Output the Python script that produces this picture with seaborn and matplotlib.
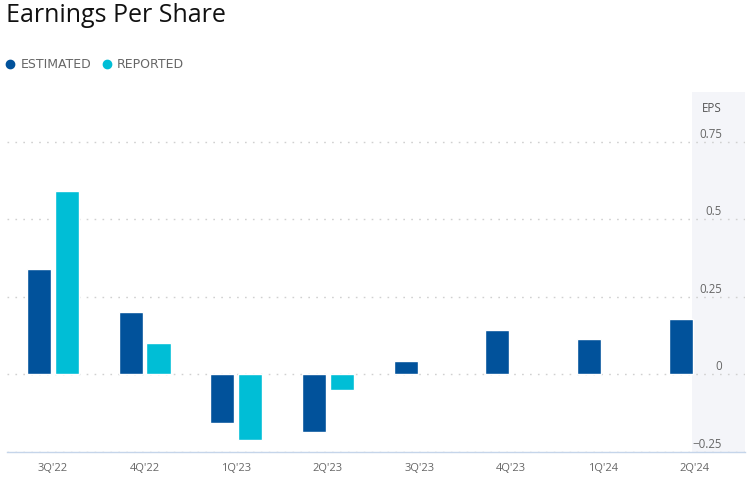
import numpy as np
import pandas as pd
import matplotlib
matplotlib.use("Agg")
import matplotlib.pyplot as plt
import seaborn as sns
from matplotlib.lines import Line2D
from matplotlib.transforms import ScaledTranslation

quarters = ["3Q'22", "4Q'22", "1Q'23", "2Q'23", "3Q'23", "4Q'23", "1Q'24", "2Q'24"]
estimated = [0.34, 0.20, -0.157, -0.187, 0.044, 0.143, 0.114, 0.18]
reported = [0.59, 0.10, -0.21, -0.05, None, None, None, None]
series_names = ["ESTIMATED", "REPORTED"]
colors = ["#01529B", "#00BED6"]
y_ticks = [-0.25, 0, 0.25, 0.5, 0.75]
y_tick_labels = ["\u22120.25", "0", "0.25", "0.5", "0.75"]

rows = []
for q, e, r in zip(quarters, estimated, reported):
    rows.append({"quarter": q, "series": series_names[0], "eps": e})
    if r is not None:
        rows.append({"quarter": q, "series": series_names[1], "eps": r})
df = pd.DataFrame(rows)

sns.set_theme(style="white")
W, H = 754, 478
fig = plt.figure(figsize=(W / 100, H / 100), dpi=100)
ax = fig.add_axes([7 / W, 1 - 452 / H, (745 - 7) / W, (452 - 92) / H])

ax.axvspan(6.97, 7.6, color="#f4f5f9", lw=0, zorder=0)

sns.barplot(data=df, x="quarter", y="eps", hue="series", order=quarters,
            hue_order=series_names, palette=colors, saturation=1,
            width=0.61, gap=0.14, ax=ax, legend=False, zorder=3)

ax.set_xlim(-0.5, 7.55)
ax.set_ylim(-0.245, 0.91)
ax.set_xlabel("")
ax.set_ylabel("")

ax.set_axisbelow(True)
ax.yaxis.grid(True, linestyle=(0, (1.2, 4.5)), color="#d0d0d0", lw=1)
ax.xaxis.grid(False)

for s in ["top", "left", "right"]:
    ax.spines[s].set_visible(False)
ax.spines["bottom"].set_color("#c5d5ea")
ax.spines["bottom"].set_linewidth(1)

ax.yaxis.tick_right()
ax.set_yticks(y_ticks)
ax.set_yticklabels(y_tick_labels, ha="right", fontfamily="Open Sans", fontsize=8.3, color="#666666")
ax.tick_params(axis="y", length=0, pad=-16.5)
off = ScaledTranslation(0, 9 / 100, fig.dpi_scale_trans)
for lbl in ax.get_yticklabels():
    lbl.set_transform(lbl.get_transform() + off)

ax.tick_params(axis="x", length=0, pad=8)
for lbl in ax.get_xticklabels():
    lbl.set_fontfamily("Open Sans")
    lbl.set_fontsize(8)
    lbl.set_color("#666666")

fig.text(722 / W, 1 - 109 / H, "EPS", ha="right", va="center",
         fontfamily="Open Sans", fontsize=8.3, color="#555555")

fig.text(6 / W, 1 - 15 / H, "Earnings Per Share", ha="left", va="center",
         fontfamily="Open Sans", fontsize=18, color="#111111")

handles = [Line2D([], [], marker="o", ls="", color=c, markersize=6) for c in colors]
leg = fig.legend(handles, series_names, loc="center left", bbox_to_anchor=(4 / W, 1 - 65 / H),
                 ncol=2, frameon=False, handlelength=1.0, handletextpad=0.3,
                 columnspacing=0.8, prop={"family": "DejaVu Sans", "size": 9},
                 labelcolor="#666666", borderaxespad=0, borderpad=0)

fig.savefig("out.png", dpi=100)
